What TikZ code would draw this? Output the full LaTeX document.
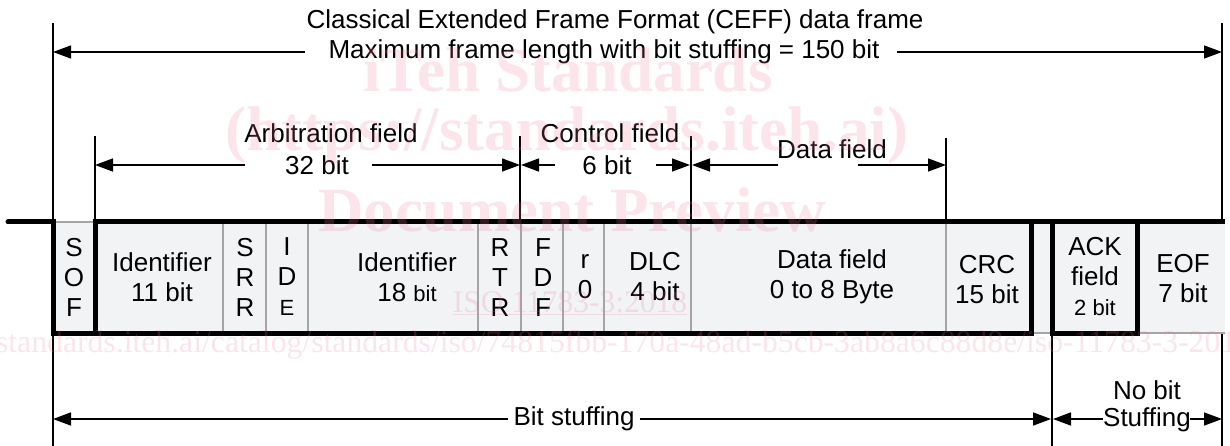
\documentclass[tikz,border=0pt]{standalone}
\usepackage{fontspec}
\setmainfont{Liberation Sans}
\newfontfamily\wmfont{Liberation Serif}
\usetikzlibrary{arrows.meta}
\definecolor{cellfill}{RGB}{242,243,245}
\definecolor{divgray}{RGB}{165,165,165}
\definecolor{wmpink}{RGB}{235,120,150}
\begin{document}
\begin{tikzpicture}[x=1pt,y=-1pt,
  heavy/.style={line width=5pt},
  divline/.style={draw=divgray,line width=2pt},
  ext/.style={line width=1.5pt},
  dimarrow/.style={line width=1.5pt,-{Triangle[length=18pt,width=13pt]}},
  lbl/.style={font=\fontsize{26}{30}\selectfont, inner sep=0pt, align=center},
  wm/.style={text=wmpink, text opacity=0.2, inner sep=0pt}]
\useasboundingbox (0,0) rectangle (1230,446);

% cells background
\fill[cellfill] (53,222) rectangle (1225,333);

% gray dividers
\foreach \x in {223,266,308,478,521,563,604,691,946}
  \draw[divline] (\x,222) -- (\x,333);
\draw[divline] (53,222) -- (95,222);
\draw[divline] (1031,333) -- (1052,333);
\draw[divline] (1137,333) -- (1225,333);

% heavy frame lines
\draw[heavy,line cap=round] (8,222) -- (53,222);
\draw[heavy] (53,219.5) -- (53,333);
\draw[heavy] (95,222) -- (95,333);
\draw[heavy] (92.5,222) -- (1225,222);
\draw[heavy] (50.5,333) -- (1033.5,333);
\draw[heavy] (1031,222) -- (1031,333);
\draw[heavy] (1052,222) -- (1052,335.5);
\draw[heavy] (1049.5,333) -- (1139.5,333);
\draw[heavy] (1137,222) -- (1137,333);

% extension lines
\coordinate (fL) at (53,23);   \coordinate (fLb) at (53,222);
\coordinate (fR) at (1222,23); \coordinate (fRb) at (1222,222);
\draw[ext] (fL) -- (fLb);
\draw[ext] (fR) -- (fRb);
\draw[ext] (53,333) -- (53,446);
\draw[ext] (1222,334) -- (1222,446);
\draw[ext] (1052,333) -- (1052,446);
\draw[ext] (95,136) -- (95,222);
\draw[ext] (520,136) -- (520,222);
\draw[ext] (691,136) -- (691,222);
\draw[ext] (946,138) -- (946,222);

% dimension arrows
\coordinate (t1) at (305,52);  \coordinate (t1e) at (53,52);
\coordinate (t2) at (897,52);  \coordinate (t2e) at (1222,52);
\draw[dimarrow] (t1) -- (t1e);
\draw[dimarrow] (t2) -- (t2e);
\coordinate (a1) at (245,165); \coordinate (a1e) at (95,165);
\coordinate (a2) at (372,165); \coordinate (a2e) at (520,165);
\draw[dimarrow] (a1) -- (a1e);
\draw[dimarrow] (a2) -- (a2e);
\coordinate (c1) at (555,165); \coordinate (c1e) at (521,165);
\coordinate (c2) at (656,165); \coordinate (c2e) at (690,165);
\draw[dimarrow] (c1) -- (c1e);
\draw[dimarrow] (c2) -- (c2e);
\coordinate (d1) at (778,165); \coordinate (d1e) at (692,165);
\coordinate (d2) at (858,165); \coordinate (d2e) at (946,165);
\draw[dimarrow] (d1) -- (d1e);
\draw[dimarrow] (d2) -- (d2e);
\coordinate (b1) at (508,419); \coordinate (b1e) at (53,419);
\coordinate (b2) at (640,419); \coordinate (b2e) at (1051,419);
\draw[dimarrow] (b1) -- (b1e);
\draw[dimarrow] (b2) -- (b2e);
\coordinate (n1) at (1103,419); \coordinate (n1e) at (1053,419);
\coordinate (n2) at (1190,419); \coordinate (n2e) at (1222,419);
\draw[dimarrow] (n1) -- (n1e);
\draw[dimarrow] (n2) -- (n2e);

% top labels
\node[lbl] (title1) at (615,22) {Classical Extended Frame Format (CEFF) data frame};
\node[lbl] (title2) at (604,52) {Maximum frame length with bit stuffing = 150 bit};
\node[lbl] (arb1) at (331,133) {Arbitration field};
\node[lbl] (arb2) at (317,165) {32 bit};
\node[lbl] (ctl1) at (610,133) {Control field};
\node[lbl] (ctl2) at (607,165) {6 bit};
\node[lbl] (dat1) at (832,149) {Data field};
\node[lbl] (bs) at (574,419) {Bit stuffing};
\node[lbl] (nb1) at (1147,390) {No bit};
\node[lbl] (nb2) at (1147,420) {Stuffing};

% cell labels
\node[lbl] (sof) at (74,277) {S\\O\\F};
\node[lbl] (id11) at (162,277) {Identifier\\11 bit};
\node[lbl] (srr) at (245,277) {S\\R\\R};
\node[lbl] (ide) at (287,277) {I\\D\\{\fontsize{22}{30}\selectfont E}};
\node[lbl] (id18) at (407,277) {Identifier\\18 {\fontsize{22}{30}\selectfont bit}};
\node[lbl] (rtr) at (500,278) {R\\T\\R};
\node[lbl] (fdf) at (543,278) {F\\D\\F};
\node[lbl] (r0) at (585,277) {r\\0};
\node[lbl] (dlc) at (655,277) {DLC\\4 bit};
\node[lbl] (dfield) at (832,277) {Data field\\0 to 8 Byte};
\node[lbl] (crc) at (987,280) {CRC\\15 bit};
\node[lbl] (ack) at (1095,277) {ACK\\field\\{\fontsize{22}{30}\selectfont 2 bit}};
\node[lbl] (eof) at (1183,279) {EOF\\7 bit};

% watermark
\node[wm,font=\wmfont\bfseries\fontsize{63}{64}\selectfont] (wm1) at (568,70) {iTeh Standards};
\node[wm,font=\wmfont\bfseries\fontsize{63}{64}\selectfont] (wm2) at (567,135) {(https://standards.iteh.ai)};
\node[wm,font=\wmfont\bfseries\fontsize{63}{64}\selectfont] (wm3) at (572,210) {Document Preview};
\node[wm,font=\wmfont\fontsize{31.5}{32}\selectfont] (wm4) at (570,303) {\underline{ISO 11783-3:2018}};
\node[wm,font=\wmfont\fontsize{31.7}{32}\selectfont] (wm5) at (580,345) {https://standards.iteh.ai/catalog/standards/iso/74815fbb-170a-48ad-b5cb-3ab8a6c88d8e/iso-11783-3-2018};
\end{tikzpicture}
\end{document}
